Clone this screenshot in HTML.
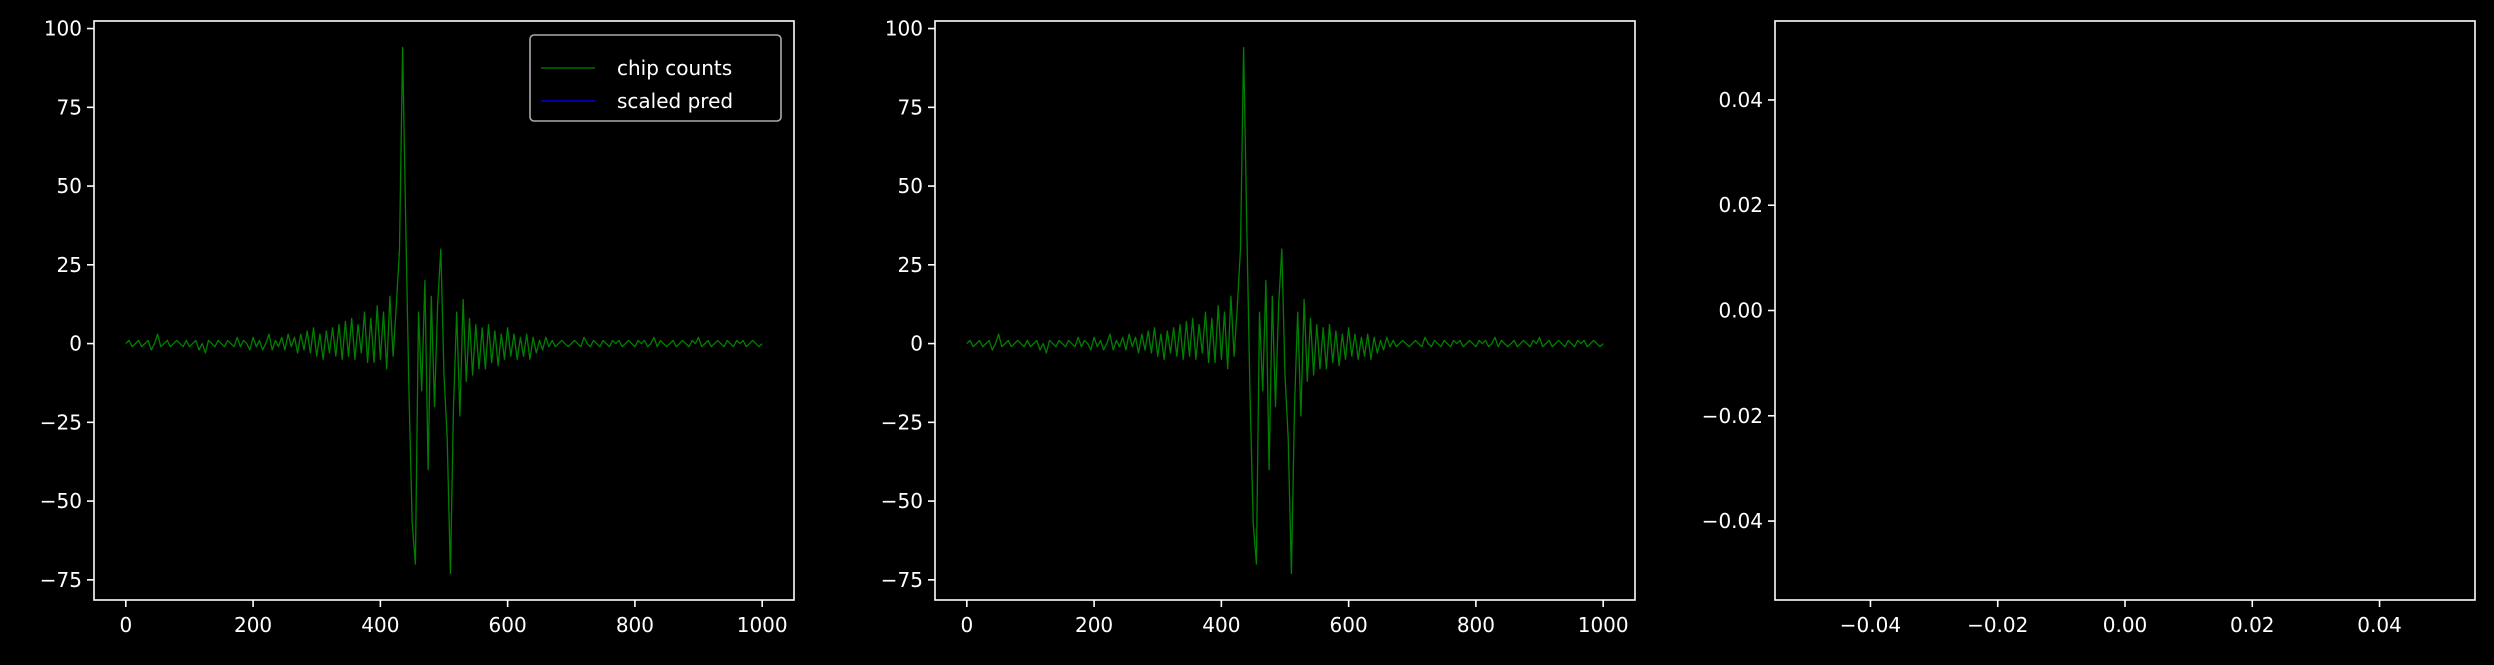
<!DOCTYPE html>
<html><head><meta charset="utf-8"><style>
html,body{margin:0;padding:0;background:#000;}
svg{display:block;}
text{font-family:"DejaVu Sans","Liberation Sans",sans-serif;font-size:20px;fill:#fff;}
</style></head><body>
<svg id="fig" width="2494" height="665" viewBox="0 0 2494 665"></svg>
<script>
const xValues = [];
for (let i = 0; i <= 200; i++) xValues.push(i * 5);
const chipCounts = [
0,1,-1,0,1,-1,0,1,-2,0, 3,-1,0,1,-1,0,1,0,-1,1, -1,0,1,-2,0,-3,1,0,-1,1, 0,-1,1,0,-1,2,-1,1,0,-2, 2,-1,1,-2,0,3,-2,1,-1,2,
-2,3,-1,2,-3,3,-2,4,-3,5, -4,3,-5,4,-3,5,-4,6,-5,7,
-4,8,-5,6,-3,10,-6,8,-6,12,-5,10,-8,15,-4,12,
30,94,37,-16,-57,-70,10,-15,20,-40,15,-20,12,30,
-10,-30,-73,-20,10,-23,14,-12,8,-10, 6,-8,5,-8,6,-6,4,-7,3,-5,
5,-4,3,-5,2,-4,3,-5,2,-3, 1,-2,2,-1,1,-1,0,1,0,-1,
0,1,0,-1,2,0,-1,1,0,-1, 1,0,-1,1,0,1,-1,0,1,0, -1,1,0,1,-1,0,2,-1,1,0, -1,0,1,-1,0,1,0,-1,1,0, 2,-1,0,1,-1,0,1,0,-1,1, 0,-1,1,0,1,-1,0,1,0,-1,0
];
const xTicks12 = [0,200,400,600,800,1000];
const yTicks12 = [100,75,50,25,0,-25,-50,-75];
const ticks3 = [-0.04,-0.02,0.00,0.02,0.04];

const NS = "http://www.w3.org/2000/svg";
const svg = document.getElementById('fig');
function el(tag, attrs, parent){
  const e = document.createElementNS(NS, tag);
  for (const k in attrs) e.setAttribute(k, attrs[k]);
  (parent||svg).appendChild(e);
  return e;
}
function fmtTick(v, dec){
  const s = Math.abs(v).toFixed(dec);
  return (v < 0 ? '\u2212' : '') + s;
}
function axes(name, L, R, T, B, xmin, xmax, ymin, ymax, xt, yt, dec){
  const g = el('g', {});
  
  
  const sx = v => L + (v - xmin) / (xmax - xmin) * (R - L);
  const sy = v => B - (v - ymin) / (ymax - ymin) * (B - T);
  const frame = el('rect', {x:L, y:T, width:R-L, height:B-T, fill:'#000', stroke:'#fff', 'stroke-width':1.6}, g);
  
  
  xt.forEach(v => {
    const x = sx(v);
    el('line', {x1:x, x2:x, y1:B, y2:B+7, stroke:'#fff', 'stroke-width':1.6}, g);
    const t = el('text', {x:x, y:B+32, 'text-anchor':'middle'}, g);
    t.textContent = fmtTick(v, dec);
    
    
  });
  yt.forEach(v => {
    const y = sy(v);
    el('line', {x1:L-7, x2:L, y1:y, y2:y, stroke:'#fff', 'stroke-width':1.6}, g);
    const t = el('text', {x:L-12, y:y+7, 'text-anchor':'end'}, g);
    t.textContent = fmtTick(v, dec);
    
    
  });
  return {g, sx, sy};
}
function drawSeries(ax, name){
  const pts = xValues.map((x,i) => ax.sx(x).toFixed(1) + ',' + ax.sy(chipCounts[i]).toFixed(1)).join(' ');
  const p = el('polyline', {points:pts, fill:'none', stroke:'#008000', 'stroke-width':1.3, 'stroke-linejoin':'round'}, ax.g);
  
  
}
const a1 = axes('left-chart', 94, 794, 21, 600, -50, 1050, -81.4, 102.4, xTicks12, yTicks12, 0);
drawSeries(a1, 'chip-counts-line');
const a2 = axes('middle-chart', 935, 1635, 21, 600, -50, 1050, -81.4, 102.4, xTicks12, yTicks12, 0);
drawSeries(a2, 'chip-counts-line-2');
const a3 = axes('right-chart-empty', 1775, 2475, 21, 600, -0.055, 0.055, -0.055, 0.055, ticks3, ticks3, 2);

// legend
const lg = el('g', {});


el('rect', {x:530, y:35, width:251, height:86, rx:4, fill:'#000', stroke:'#aaa', 'stroke-width':1.6}, lg);
el('line', {x1:541, x2:595, y1:68, y2:68, stroke:'#008000', 'stroke-width':1.3}, lg);
const t1 = el('text', {x:617, y:75}, lg); t1.textContent = 'chip counts';


el('line', {x1:541, x2:595, y1:116-0, y2:116, stroke:'none'}, lg);
el('line', {x1:541, x2:595, y1:101, y2:101, stroke:'#0000ff', 'stroke-width':1.3}, lg);
const t2 = el('text', {x:617, y:108}, lg); t2.textContent = 'scaled pred';


</script>
</body></html>
